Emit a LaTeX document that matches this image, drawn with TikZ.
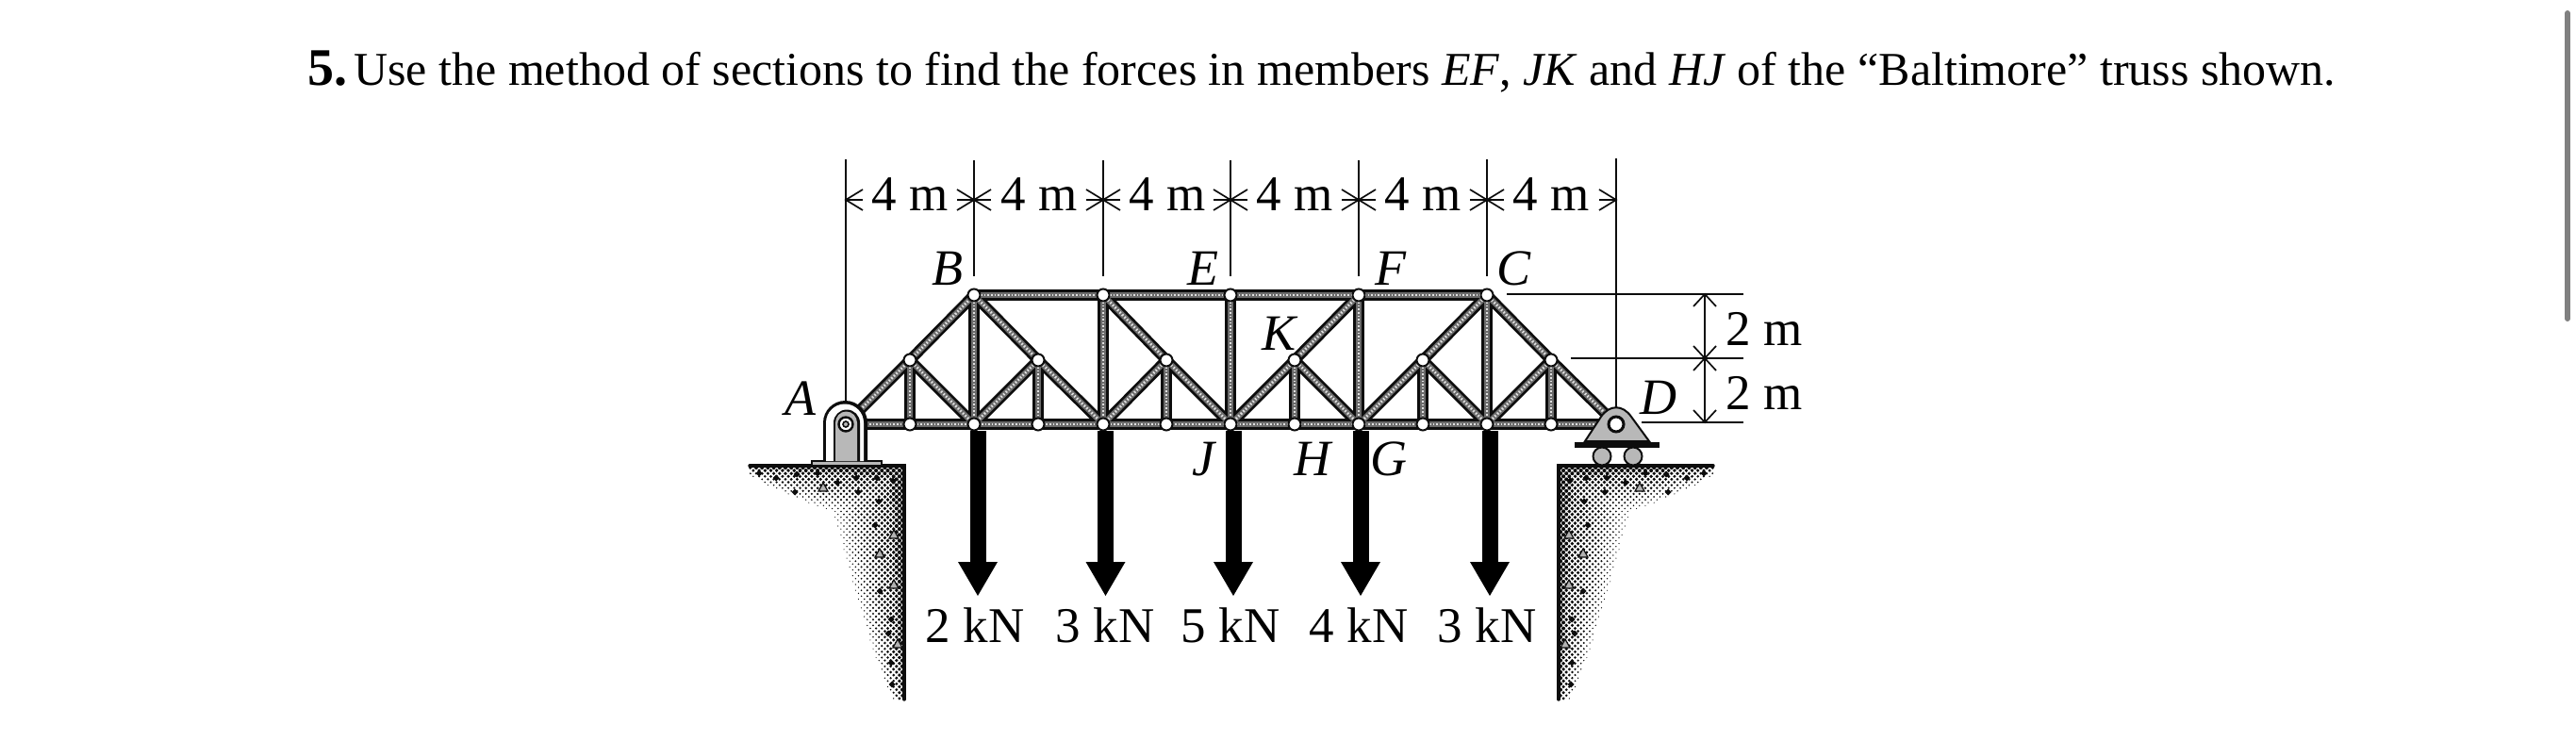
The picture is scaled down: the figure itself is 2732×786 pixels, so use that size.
\documentclass[tikz,border=0pt]{standalone}
\usepackage{fontspec}
\setmainfont{Liberation Serif}
\usetikzlibrary{arrows.meta}
\definecolor{ink}{gray}{0.05}
\definecolor{core}{gray}{0.42}
\definecolor{speck}{gray}{0.88}
\definecolor{barfill}{gray}{0.72}
\tikzset{
  x=1pt,y=-1pt,
  member/.style={line width=11.5pt,draw=ink,line cap=round},
  coreline/.style={line width=6pt,draw=core},
  dotline/.style={line width=2.8pt,draw=speck,dash pattern=on 1.6pt off 2pt},
  pinj/.style={circle,draw=ink,line width=2pt,fill=white,inner sep=0pt,minimum size=13pt},
  label/.style={font=\fontsize{54}{54}\selectfont\itshape,inner sep=0pt},
  dimtxt/.style={font=\fontsize{53}{53}\selectfont,inner sep=0pt},
  dimline/.style={line width=1.7pt,draw=ink},
  load/.style={line width=17pt,draw=black},
  loadhead/.style={fill=black,draw=none},
  groundline/.style={line width=3.4pt,draw=ink,line cap=round}
}
% halftone ground, drawn in the corner frame: u = distance from wall, v = depth below top
\newcommand{\groundtone}{%
  \foreach \row in {0,...,79}{%
    \foreach \col in {0,...,27}{%
      \pgfmathsetmacro{\uu}{\col*6.2+mod(\row,2)*3.1+2}%
      \pgfmathsetmacro{\vv}{\row*3.1+2}%
      \pgfmathsetmacro{\dd}{max(1-\vv/(74*pow(max(1-\uu/172,0.001),0.7)+1),1-\uu/(10+80*pow(max(1-\vv/250,0.001),0.8)))}%
      \pgfmathparse{(\dd>0.03)&&(\uu<166)?1:0}%
      \ifnum\pgfmathresult=1
        \pgfmathsetmacro{\rr}{0.3+1.85*pow(\dd,0.6)}%
        \fill[ink] (-\uu,\vv) circle[radius=\rr pt];%
      \fi
    }%
  }%
  \foreach \su/\sv in {154/8,136/13,114/9,92/8,71/18,51/13,29/13,12/16,116/28,49/28,27/38,31/63,26/133,14/163,17/178,14/209,13/232}{%
    \fill[ink] (-\su,\sv) ++(-3.5,0) -- ++(3.5,-3.5) -- ++(3.5,3.5) -- ++(-3.5,3.5) -- cycle;}%
  \foreach \su/\sv in {86/23,11/73,26/93,11/126,7/189}{%
    \draw[ink,line width=1.2pt,fill=white!70!black] (-\su,\sv) ++(-5,4) -- ++(5,-9) -- ++(5,9) -- cycle;}%
}
\begin{document}
\begin{tikzpicture}
\useasboundingbox (0,0) rectangle (2732,786);
\fill[white] (0,0) rectangle (2732,786);
% scrollbar
\draw[line width=6pt,line cap=round,draw=black!50] (2723,14) -- (2723,338);
% heading
\node[anchor=base west,inner sep=0pt,font=\fontsize{50}{50}\selectfont] (head) at (326,91)
 {{\fontsize{56}{56}\selectfont\bfseries 5.}\hspace{7pt}Use the method of sections to find the forces in members \textit{EF}, \textit{JK} and \textit{HJ} of the “Baltimore” truss shown.};
% joints as coordinates
\foreach \n/\x/\y in {A/897/450,L1/965/450,L2/1033/450,L3/1101/450,L4/1170/450,L5/1237/450,J/1305/450,H/1373/450,G/1441/450,L9/1509/450,L10/1577/450,L11/1645/450,Dd/1714/450,
 B/1033/313,T2/1170/313,E/1305/313,F/1441/313,C/1577/313,
 M1/965/382,M2/1101/382,M3/1237/382,K/1373/382,M5/1509/382,M6/1645/382}{\coordinate (\n) at (\x,\y);}
% ground
\begin{scope}[shift={(959,494)}] \groundtone \end{scope}
\begin{scope}[shift={(1653,494)},xscale=-1] \groundtone \end{scope}
\draw[groundline] (795,494) -- (959,494) -- (959,742);
\draw[groundline] (1817,494) -- (1653,494) -- (1653,742);
% truss members: black body, then halftone core
\newcommand{\trussmembers}[1]{%
  \foreach \a/\b in {A/M1,M1/B,B/M2,M2/L4,T2/M3,M3/J,F/K,K/J,C/M5,M5/G,C/M6,M6/Dd,
                     M1/L2,M2/L2,M3/L4,K/G,M5/L10,M6/L10,
                     B/L2,T2/L4,E/J,F/G,C/L10,
                     M1/L1,M2/L3,M3/L5,K/H,M5/L9,M6/L11,
                     A/Dd,B/C}{\draw[#1] (\a) -- (\b);}}
\trussmembers{member}
\trussmembers{coreline}
\trussmembers{dotline}
\foreach \n in {L1,L2,L3,L4,L5,J,H,G,L9,L10,L11,B,T2,E,F,C,M1,M2,M3,K,M5,M6}{\node[pinj] (p\n) at (\n) {};}
% loads
\foreach \x/\lab/\tx in {1037/2 kN/1034,1172.5/3 kN/1172,1308/5 kN/1305,1443/4 kN/1441,1580/3 kN/1577}{
  \coordinate (ls) at (\x,457); \coordinate (le) at (\x,600);
  \draw[load] (ls) -- (le);
  \fill[loadhead] (\x-21,596) -- (\x+21,596) -- (\x,632) -- cycle;
  \node[dimtxt] at (\tx,663) {\lab};
}
% support A
\fill[ink] (860,488) rectangle (936,494);
\fill[barfill] (862,490) rectangle (934,493);
\fill[ink] (873,489) -- (873,448.5) arc[start angle=180,end angle=360,x radius=23.5,y radius=23.5] -- (920,489) -- cycle;
\fill[white] (876,489) -- (876,448.5) arc[start angle=180,end angle=360,x radius=20,y radius=20] -- (916,489) -- cycle;
\fill[ink] (884,489) -- (884,448.5) arc[start angle=180,end angle=360,x radius=14,y radius=14] -- (912,489) -- cycle;
\fill[barfill] (886,489) -- (886,448.5) arc[start angle=180,end angle=360,x radius=11.5,y radius=12] -- (909,489) -- cycle;
\node[circle,draw=ink,line width=2.4pt,fill=white,inner sep=0pt,minimum size=15pt] (pa) at (A) {};
\node[circle,draw=ink,line width=1.6pt,fill=barfill,inner sep=0pt,minimum size=6pt] at (A) {};
% support D
\draw[line width=2pt,draw=ink,fill=barfill] (1681,468) -- (1698,442) .. controls (1707,429) and (1721,429) .. (1730,442) -- (1749,468) -- cycle;
\node[circle,draw=ink,line width=3pt,fill=white,inner sep=0pt,minimum width=12pt,minimum height=16pt] (pd) at (Dd) {};
\fill[ink] (1670,469) rectangle (1760,475);
\foreach \x in {1699,1732}{\draw[line width=2pt,draw=ink,fill=barfill] (\x,484) circle[radius=9.5];}
% extension lines of the 4 m dimensions
\foreach \n/\x/\yt/\yb in {e0/897/169/425,e1/1033/170/293,e2/1170/170/293,e3/1305/170/293,e4/1441/170/293,e5/1577/169/293,e6/1714/168/432}{
  \coordinate (\n t) at (\x,\yt); \coordinate (\n b) at (\x,\yb);
  \draw[dimline] (\n t) -- (\n b);}
\foreach \n/\x in {d1/965,d2/1102,d3/1238,d4/1373,d5/1509,d6/1645}{\node[dimtxt] (\n) at (\x,206.5) {4 m};}
% open barbed arrowheads, tips on the extension lines
\foreach \x in {1033,1170,1305,1441,1577,1714}{
  \coordinate (tip) at (\x,212);
  \draw[dimline,line join=miter] (\x-18,201) -- (tip) -- (\x-18,223);
  \draw[dimline] (\x-18,212) -- (tip);}
\foreach \x in {897,1033,1170,1305,1441,1577}{
  \coordinate (tip) at (\x,212);
  \draw[dimline,line join=miter] (\x+18,201) -- (tip) -- (\x+18,223);
  \draw[dimline] (\x+18,212) -- (tip);}
% 2 m dimensions
\coordinate (h1a) at (1598,312); \coordinate (h1b) at (1849,312);
\coordinate (h2a) at (1666,380); \coordinate (h2b) at (1849,380);
\coordinate (h3a) at (1741,448); \coordinate (h3b) at (1849,448);
\draw[dimline] (h1a) -- (h1b);
\draw[dimline] (h2a) -- (h2b);
\draw[dimline] (h3a) -- (h3b);
\coordinate (v1) at (1808,312); \coordinate (v2) at (1808,380); \coordinate (v3) at (1808,448);
\draw[dimline] (v1) -- (v3);
\draw[dimline] (1796,325) -- (v1) -- (1820,325);
\draw[dimline] (1796,367) -- (v2) -- (1820,367);
\draw[dimline] (1796,393) -- (v2) -- (1820,393);
\draw[dimline] (1796,435) -- (v3) -- (1820,435);
\node[dimtxt] (dm1) at (1871,349) {2 m};
\node[dimtxt] (dm2) at (1871,417) {2 m};
% labels
\node[label] (lA) at (849,423) {A};
\node[label] (lB) at (1005,285) {B};
\node[label] (lE) at (1276,285) {E};
\node[label] (lF) at (1475,285) {F};
\node[label] (lC) at (1605,285) {C};
\node[label] (lK) at (1356,354) {K};
\node[label] (lJ) at (1276,487) {J};
\node[label] (lH) at (1392,487) {H};
\node[label] (lG) at (1473,487) {G};
\node[label] (lD) at (1759,422) {D};
\end{tikzpicture}
\end{document}
